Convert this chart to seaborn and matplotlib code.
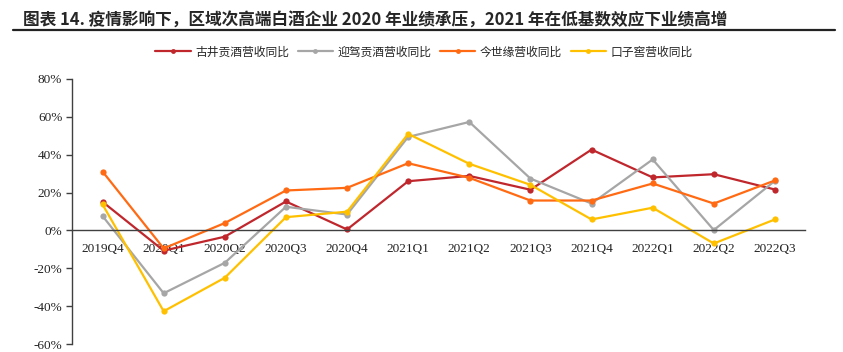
import pandas as pd
import seaborn as sns
import matplotlib.pyplot as plt
from matplotlib.lines import Line2D
from matplotlib.ticker import FuncFormatter

quarters = ["2019Q4", "2020Q1", "2020Q2", "2020Q3", "2020Q4", "2021Q1",
            "2021Q2", "2021Q3", "2021Q4", "2022Q1", "2022Q2", "2022Q3"]

gujing = [15.1, -10.7, -3.3, 15.3, 0.5, 26.0, 28.8, 21.5, 42.7, 28.0, 29.7, 21.6]
yingjia = [7.6, -33.2, -17.1, 12.5, 8.4, 49.4, 57.3, 27.4, 14.2, 37.5, 0.2, 26.2]
jinshiyuan = [31.1, -9.5, 3.9, 21.1, 22.5, 35.5, 27.8, 15.8, 15.8, 24.8, 14.2, 26.4]
kouzijiao = [13.7, -42.7, -25.0, 7.0, 9.9, 51.0, 35.2, 24.1, 5.8, 12.0, -6.9, 5.8]

names = ["古井贡酒营收同比", "迎驾贡酒营收同比", "今世缘营收同比", "口子窖营收同比"]
colors = ["#C0272D", "#A6A6A6", "#FF6A13", "#FFC000"]

rows = []
for name, vals in zip(names, [gujing, yingjia, jinshiyuan, kouzijiao]):
    for i, (q, v) in enumerate(zip(quarters, vals)):
        rows.append({"idx": i, "quarter": q, "series": name, "value": v})
df = pd.DataFrame(rows)

sns.set_style("white")
plt.rcParams["font.family"] = ["Liberation Serif", "Noto Sans CJK SC"]

fig = plt.figure(figsize=(8.43, 3.52), dpi=100)
ax = fig.add_axes([0.0854, 0.0227, 0.8701, 0.7529])

sns.lineplot(data=df, x="idx", y="value", hue="series", hue_order=names,
             palette=colors, marker="o", markersize=4.5, markeredgewidth=0,
             linewidth=1.6, ax=ax, legend=False)

ax.set_xlim(-0.5, 11.5)
ax.set_ylim(-60, 80)
ax.set_yticks(range(-60, 81, 20))
ax.yaxis.set_major_formatter(FuncFormatter(lambda v, p: f"{v:.0f}%"))
ax.set_xticks(range(len(quarters)))
ax.set_xticklabels(quarters)
ax.set_xlabel("")
ax.set_ylabel("")

for s in ["top", "right"]:
    ax.spines[s].set_visible(False)
ax.spines["bottom"].set_position(("data", 0))
ax.spines["bottom"].set_color("#404040")
ax.spines["left"].set_color("#404040")
ax.spines["bottom"].set_linewidth(1.0)
ax.spines["left"].set_linewidth(1.0)
ax.tick_params(axis="x", length=0, pad=9, labelsize=9.5, colors="#222222")
ax.tick_params(axis="y", direction="out", length=4, width=1.0, color="#404040",
               left=True, labelsize=9.5, labelcolor="#222222", pad=3)

handles = [Line2D([0], [0], color=c, lw=1.6, marker="o", markersize=3.5,
                  markeredgewidth=0) for c in colors]
fig.legend(handles, names, loc="center", bbox_to_anchor=(0.503, 0.852), ncol=4,
           frameon=False, handlelength=3.0, handletextpad=0.4, columnspacing=0.7,
           prop={"family": ["Noto Sans CJK SC"], "size": 8.5})

fig.text(0.027, 0.943, "图表 14. 疫情影响下，区域次高端白酒企业 2020 年业绩承压，2021 年在低基数效应下业绩高增",
         ha="left", va="center", fontsize=12, fontweight="bold",
         family=["Noto Sans CJK SC"])
fig.add_artist(Line2D([0.0154, 0.9905], [0.916, 0.916], color="#222222", lw=1.6,
                      transform=fig.transFigure))

plt.savefig("out.png", dpi=100)
